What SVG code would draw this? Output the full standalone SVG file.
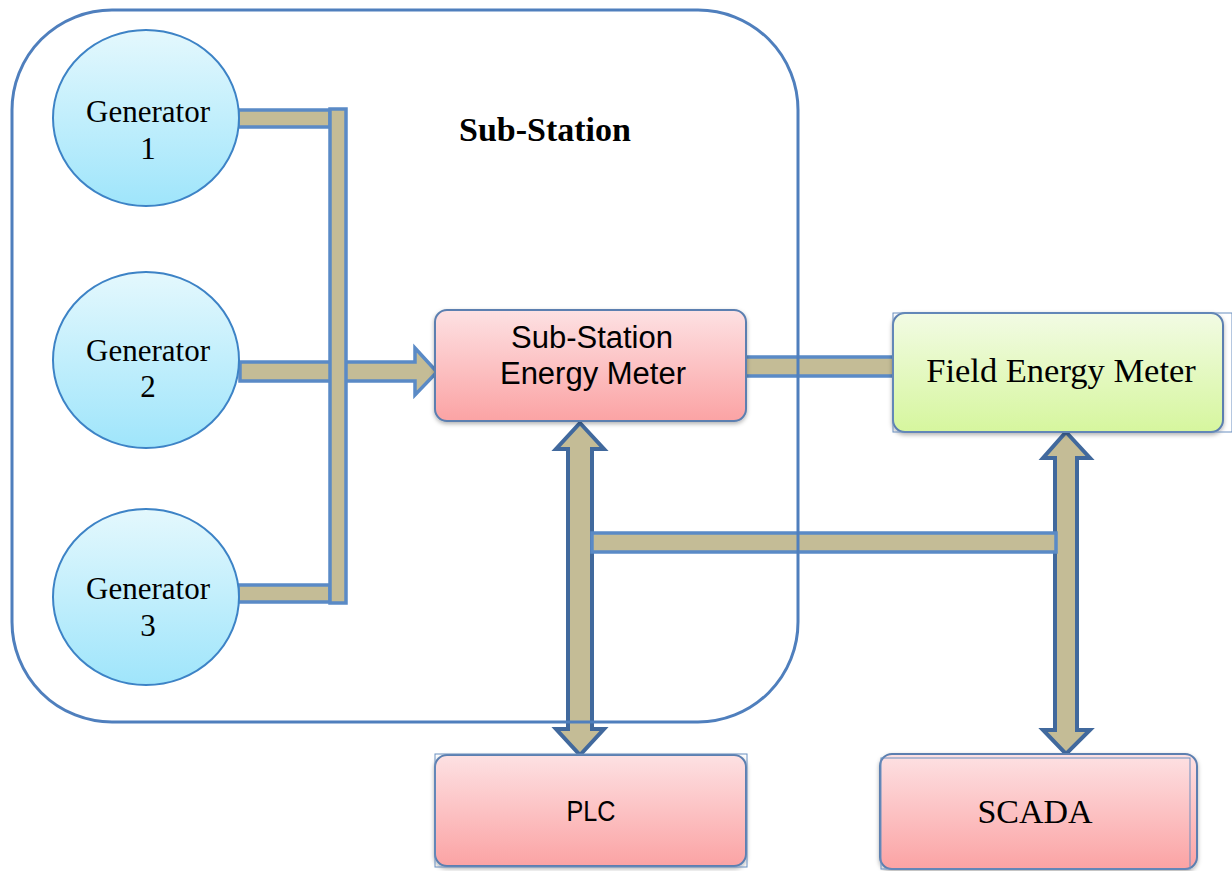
<svg xmlns="http://www.w3.org/2000/svg" width="1232" height="871" viewBox="0 0 1232 871">
  <defs>
    <linearGradient id="gGen" x1="0" y1="0" x2="0" y2="1">
      <stop offset="0" stop-color="#e4f8fd"/>
      <stop offset="1" stop-color="#9fe5fb"/>
    </linearGradient>
    <linearGradient id="gPink" x1="0" y1="0" x2="0" y2="1">
      <stop offset="0" stop-color="#fde1e3"/>
      <stop offset="1" stop-color="#fba3a4"/>
    </linearGradient>
    <linearGradient id="gGreen" x1="0" y1="0" x2="0" y2="1">
      <stop offset="0" stop-color="#f2fbe4"/>
      <stop offset="1" stop-color="#d6f69e"/>
    </linearGradient>
    <filter id="shadow" x="-10%" y="-10%" width="120%" height="130%">
      <feDropShadow dx="0" dy="2" stdDeviation="2" flood-color="#000" flood-opacity="0.3"/>
    </filter>
  </defs>
  <style>
    .gen { fill: url(#gGen); stroke: #3d83c6; stroke-width: 2; }
    .box { stroke: #5b7fb0; stroke-width: 2; filter: url(#shadow); }
    .frame { fill: none; stroke: #6a8fc0; stroke-width: 1; }
    .bar { fill: #c4bc96; stroke: #5a8ac6; stroke-width: 3.5; }
    .dbl { fill: #c4bc96; stroke: #41699d; stroke-width: 4; stroke-linejoin: miter; }
    .serif { font-family: "Liberation Serif", "Times New Roman", serif; fill: #000; text-anchor: middle; }
    .sans { font-family: "Liberation Sans", Arial, sans-serif; fill: #000; text-anchor: middle; }
  </style>

  <rect width="1232" height="871" fill="#fff"/>

  <!-- connectors -->
  <g id="connectors">
    <!-- generator 2 feed arrow into the sub-station meter -->
    <path class="bar" d="M240,362 L415,362 L415,348 L437,372 L415,395 L415,381 L240,381 Z"/>
    <!-- generator 1 and 3 feeders -->
    <rect class="bar" x="238" y="110" width="92" height="17"/>
    <rect class="bar" x="238" y="585" width="92" height="17"/>
    <!-- generator bus -->
    <rect class="bar" x="330" y="109" width="16" height="494"/>
    <!-- meter to field meter link -->
    <rect class="bar" x="742" y="357" width="153" height="19"/>
    <!-- two-way links to PLC and SCADA -->
    <path class="dbl" d="M580,423 L604,449 L592,449 L592,729 L604,729 L580,755 L556,729 L568,729 L568,449 L556,449 Z"/>
    <path class="dbl" d="M1066,432 L1090,458 L1077,458 L1077,730 L1090,730 L1066,754 L1043,730 L1055,730 L1055,458 L1043,458 Z"/>
    <!-- cross link between the two vertical links -->
    <rect class="bar" x="592" y="533" width="464" height="19"/>
  </g>

  <!-- sub-station enclosure -->
  <g id="substation">
    <rect x="12" y="10" width="786" height="712" rx="100" ry="100" fill="none" stroke="#4f7fbd" stroke-width="3"/>
    <text class="serif" x="545" y="141" font-size="34" font-weight="bold">Sub-Station</text>
  </g>

  <g id="generator1">
    <ellipse class="gen" cx="146" cy="118" rx="93" ry="88"/>
    <text class="serif" x="148" y="122" font-size="31">Generator</text>
    <text class="serif" x="148" y="159" font-size="31">1</text>
  </g>
  <g id="generator2">
    <ellipse class="gen" cx="146" cy="360" rx="93" ry="88"/>
    <text class="serif" x="148" y="361" font-size="31">Generator</text>
    <text class="serif" x="148" y="397" font-size="31">2</text>
  </g>
  <g id="generator3">
    <ellipse class="gen" cx="146" cy="597" rx="93" ry="88"/>
    <text class="serif" x="148" y="599" font-size="31">Generator</text>
    <text class="serif" x="148" y="636" font-size="31">3</text>
  </g>

  <g id="substation-meter">
    <rect class="box" x="435" y="310" width="311" height="111" rx="12" ry="12" fill="url(#gPink)"/>
    <text class="sans" x="592" y="348" font-size="31">Sub-Station</text>
    <text class="sans" x="593" y="384" font-size="31">Energy Meter</text>
  </g>

  <g id="field-meter">
    <rect class="box" x="893" y="313" width="330" height="119" rx="12" ry="12" fill="url(#gGreen)"/>
    <rect class="frame" x="893" y="313" width="339" height="119"/>
    <text class="serif" x="1061" y="382" font-size="34.5">Field Energy Meter</text>
  </g>

  <g id="plc">
    <rect class="box" x="435" y="755" width="311" height="111" rx="12" ry="12" fill="url(#gPink)"/>
    <rect class="frame" x="435" y="754" width="312" height="113"/>
    <text class="sans" x="591" y="821" font-size="29" textLength="49" lengthAdjust="spacingAndGlyphs">PLC</text>
  </g>

  <g id="scada">
    <rect class="box" x="880" y="754" width="317" height="115" rx="12" ry="12" fill="url(#gPink)"/>
    <rect class="frame" x="881" y="758" width="309" height="111"/>
    <text class="serif" x="1035" y="823" font-size="34">SCADA</text>
  </g>
</svg>
